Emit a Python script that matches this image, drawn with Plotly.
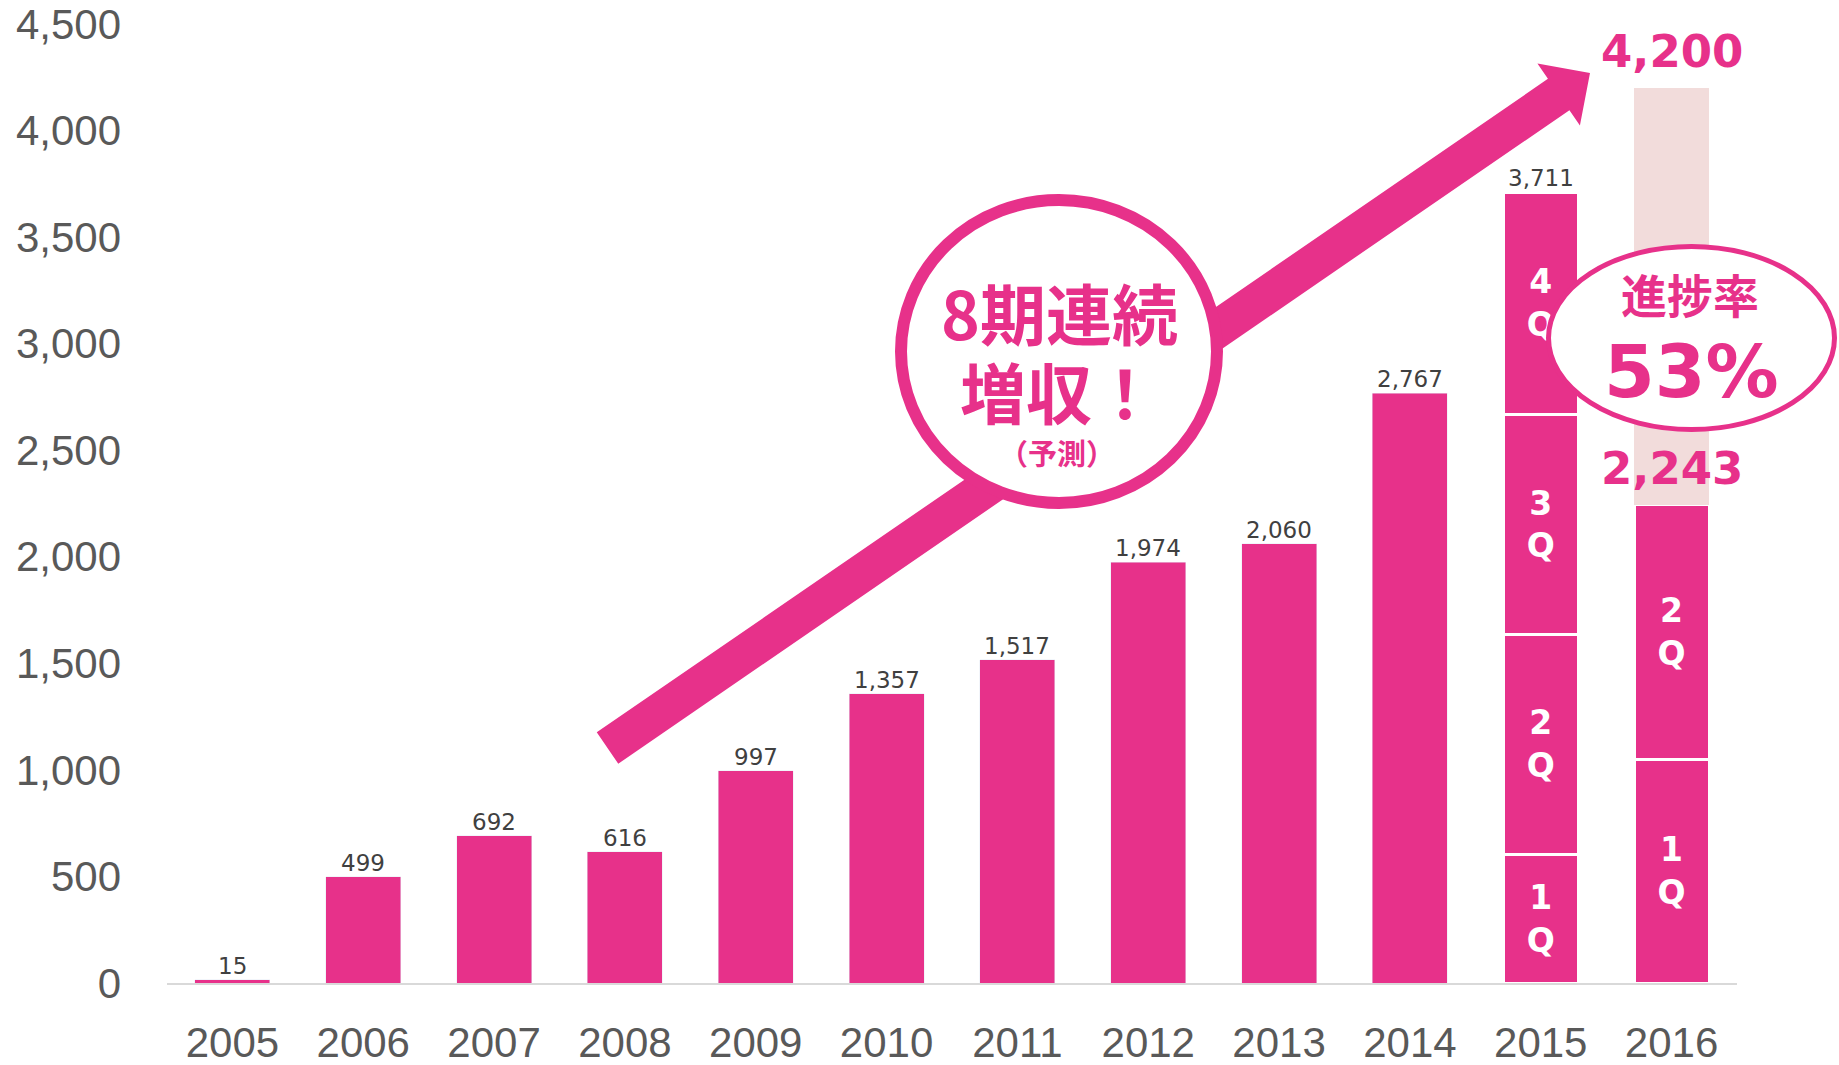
import math
import plotly.graph_objects as go

# ---------------- data ----------------
years = ['2005', '2006', '2007', '2008', '2009', '2010', '2011', '2012', '2013', '2014', '2015', '2016']
annual_years = years[:10]
annual_sales = [15, 499, 692, 616, 997, 1357, 1517, 1974, 2060, 2767]
quarter_names = ['1Q', '2Q', '3Q', '4Q']
q_2015 = [603, 1033, 1031, 1044]
q_2016 = [1051, 1192]
total_2015 = 3711
h1_2016 = 2243
forecast_2016 = 4200
y_ticks = [0, 500, 1000, 1500, 2000, 2500, 3000, 3500, 4000, 4500]

# ---------------- style ----------------
PINK = '#E7318A'
LIGHT = '#F2DCDB'
W, H = 1839, 1065
ML, MR, MT, MB = 167, 102, 24, 82
PW, PH = W - ML - MR, H - MT - MB
NUM_FONT = 'Liberation Sans, Arial, sans-serif'
LBL_FONT = 'DejaVu Sans, Verdana, sans-serif'
JP_FONT = 'Noto Sans CJK JP, sans-serif'


def px(xp, yp):
    """pixel -> paper coordinates"""
    return (xp - ML) / PW, (MT + PH - yp) / PH


fig = go.Figure()

fig.add_trace(go.Bar(x=annual_years, y=annual_sales, marker_color=PINK,
                     hoverinfo='skip', showlegend=False))

# quarterly segments for 2015 / 2016
for i, qn in enumerate(quarter_names):
    xs, ys = ['2015'], [q_2015[i]]
    if i < len(q_2016):
        xs.append('2016')
        ys.append(q_2016[i])
    lab = '<br>'.join(list(qn))
    fig.add_trace(go.Bar(
        x=xs, y=ys, marker=dict(color=PINK, line=dict(color='white', width=3)),
        text=[lab] * len(xs), textposition='inside', insidetextanchor='middle',
        textangle=0, textfont=dict(color='white', size=33, family=LBL_FONT, weight='bold'),
        hoverinfo='skip', showlegend=False))

# remaining forecast for 2016
fig.add_trace(go.Bar(x=['2016'], y=[forecast_2016 - sum(q_2016)],
                     marker=dict(color=LIGHT, line=dict(width=0)),
                     hoverinfo='skip', showlegend=False))

annotations = []
for yr, v in zip(annual_years + ['2015'], annual_sales + [total_2015]):
    annotations.append(dict(x=years.index(yr), y=v, xref='x', yref='y', text=f'{v:,}',
                            showarrow=False, yanchor='middle', yshift=14,
                            font=dict(size=23, color='#404040', family=LBL_FONT)))
for v in (forecast_2016, h1_2016):
    annotations.append(dict(x=years.index('2016'), y=v, xref='x', yref='y', text=f'<b>{v:,}</b>',
                            showarrow=False, yanchor='middle', yshift=36,
                            font=dict(size=45, color=PINK, family=LBL_FONT)))

# ---------------- decorative shapes ----------------
shapes = []
T = (607.5, 748.0)
P = (1590.0, 73.0)
L = math.hypot(P[0] - T[0], P[1] - T[1])
u = ((P[0] - T[0]) / L, (P[1] - T[1]) / L)
n = (-u[1], u[0])
hw, hh, hl = 19, 37.5, 38
B = (P[0] - hl * u[0], P[1] - hl * u[1])
pts = [
    (T[0] + hw * n[0], T[1] + hw * n[1]),
    (B[0] + hw * n[0], B[1] + hw * n[1]),
    (B[0] + hh * n[0], B[1] + hh * n[1]),
    P,
    (B[0] - hh * n[0], B[1] - hh * n[1]),
    (B[0] - hw * n[0], B[1] - hw * n[1]),
    (T[0] - hw * n[0], T[1] - hw * n[1]),
]
path = 'M ' + ' L '.join('%.5f,%.5f' % px(*p) for p in pts) + ' Z'
shapes.append(dict(type='path', path=path, xref='paper', yref='paper',
                   fillcolor=PINK, line=dict(width=0), layer='above'))

# circle "8期連続増収！"
x0, y0 = px(901, 200)
x1, y1 = px(1217, 503)
shapes.append(dict(type='circle', xref='paper', yref='paper', x0=x0, y0=y1, x1=x1, y1=y0,
                   fillcolor='white', line=dict(color=PINK, width=12), layer='above'))
# ellipse "進捗率 53%"
x0, y0 = px(1548.5, 246.5)
x1, y1 = px(1834.5, 429.5)
shapes.append(dict(type='circle', xref='paper', yref='paper', x0=x0, y0=y1, x1=x1, y1=y0,
                   fillcolor='white', line=dict(color=PINK, width=5), layer='above'))

for txt, cx, cy, size, fam in [
    ('<b>8期連続</b>', 1059, 311, 66, JP_FONT),
    ('<b>増収！</b>', 1059, 390, 66, JP_FONT),
    ('<b>（予測）</b>', 1057, 452, 29, JP_FONT),
    ('<b>進捗率</b>', 1690, 293, 46, JP_FONT),
    ('<b>53%</b>', 1691, 371, 73, LBL_FONT),
]:
    xp, yp = px(cx, cy)
    annotations.append(dict(x=xp, y=yp, xref='paper', yref='paper', text=txt, showarrow=False,
                            xanchor='center', yanchor='middle',
                            font=dict(size=size, color=PINK, family=fam)))

fig.update_layout(
    width=W, height=H, barmode='stack', bargap=0.427,
    margin=dict(l=ML, r=MR, t=MT, b=MB, autoexpand=False),
    paper_bgcolor='white', plot_bgcolor='white',
    annotations=annotations, shapes=shapes, showlegend=False,
    xaxis=dict(type='category', categoryorder='array', categoryarray=years,
               range=[-0.5, len(years) - 0.5], showline=True, linecolor='#D9D9D9',
               linewidth=2, showgrid=False, ticks='', ticklabelstandoff=22,
               tickfont=dict(size=42, color='#595959', family=NUM_FONT)),
    yaxis=dict(range=[0, 4500], tickvals=y_ticks, ticktext=[f'{v:,}' for v in y_ticks],
               showgrid=False, zeroline=False, showline=False, ticks='',
               ticklabelstandoff=45,
               tickfont=dict(size=42, color='#595959', family=NUM_FONT)),
)

fig.write_html('out.html', config={'displayModeBar': False},
               post_script="document.body.style.margin='0';document.body.style.overflow='hidden';")
